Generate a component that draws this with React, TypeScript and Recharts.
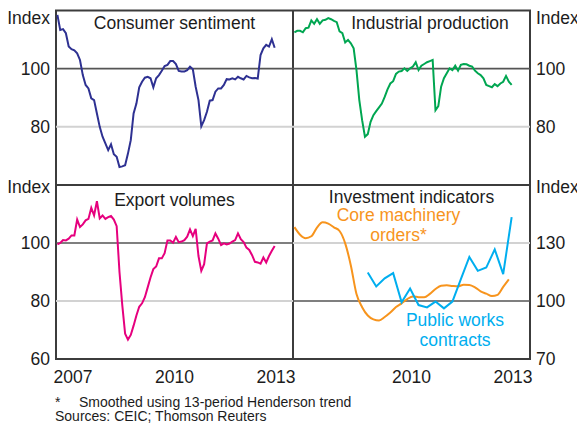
import React from 'react';
import { LineChart, Line, XAxis, YAxis, ReferenceLine, ReferenceArea } from 'recharts';

const FONT = '"Liberation Sans", Arial, Helvetica, sans-serif';
const TEXT = '#1c1c1c';
const FRAME = '#3c3c3c';
const DARK_GRID = '#555555';
const LIGHT_GRID = '#d2d2d2';

// x-axis categories
const yearLabelsLeft = [2007, 2010, 2013];
const yearLabelsRight = [2010, 2013];
const yearBoundaries = [2008, 2009, 2010, 2011, 2012, 2013];

// Consumer sentiment, monthly from Jan 2007
const consumerSentiment = [
  118.5, 113.3, 113.6, 112.2, 107.6, 106.7, 106.3, 105.3, 103, 97.8,
  94.4, 93.2, 89.8, 89.2, 84.6, 80, 76.6, 74.3, 72, 74,
  70.6, 69.7, 66.2, 66.4, 66.8, 70.8, 75.4, 84.6, 88, 93.6,
  95.5, 96.9, 97.2, 96.7, 93.6, 96.7, 97.8, 99.3, 100.9, 101.3,
  102.6, 102.6, 101.6, 99.2, 99, 99, 99.5, 100.7, 99.8, 93.8,
  89.2, 80.2, 82.3, 85.2, 89, 89.2, 92.1, 93.2, 93.2, 94.4,
  96.4, 96.3, 96.7, 96.3, 97.2, 96.7, 96.3, 97.5, 97, 96.7,
  96.8, 96.6, 104.7, 107, 108.2, 107.6, 110.1, 107.2,
];

// Industrial production, monthly from Jan 2007
const industrialProduction = [
  112.5, 113, 113, 112.5, 113.9, 114.1, 116.6, 115.4, 117, 115.4,
  116.6, 116.8, 117.4, 117, 116.4, 116, 112.8, 112.2, 109, 109.9,
  108.7, 107, 99.5, 89.2, 82.3, 76.6, 77.5, 81.7, 84, 85.4,
  86.7, 88, 90.3, 92.9, 94.9, 95.7, 98.2, 99, 99.2, 100.1,
  99.2, 100.1, 100.7, 102.2, 99.5, 101, 101.6, 102.2, 102.6, 103,
  85.7, 87.1, 93.8, 96.7, 98.4, 100.1, 99.5, 101, 99.3, 101.3,
  101.6, 101.5, 101, 100.7, 99.3, 98.4, 97.8, 96.7, 94.4, 94,
  93.6, 94.7, 94, 94.9, 95.5, 97.5, 95.5, 94.4,
];

// Export volumes, monthly from Jan 2007
const exportVolumes = [
  99.5, 100, 101, 100.9, 101.5, 102.6, 102.6, 108.1, 105.5, 106.4,
  107.8, 108.3, 112.1, 109.5, 114.4, 108.5, 109.5, 108.3, 108.9, 109.3,
  108.1, 105.8, 90, 78.5, 68.7, 66.7, 68.3, 71.5, 75, 78,
  79.2, 81.3, 84.7, 88.1, 91, 91.9, 94.7, 94.7, 96.5, 100.9,
  100.9, 100.1, 102.1, 100.3, 100.5, 101, 102.2, 104.7, 102.4, 104.9,
  95.5, 90.4, 92.7, 99.9, 100.5, 100.9, 103.3, 101.5, 99.3, 99.9,
  99.5, 99.8, 100.5, 101, 103.3, 101.3, 100.3, 98.4, 97.6, 95.8,
  93.5, 93.3, 92.9, 95, 93.3, 95.5, 97.3, 99,
];

// Core machinery orders (smoothed), every second month from Jan 2007
const machineryOrders = [
  138.2, 134.3, 132.5, 133.5, 138, 140.7, 140, 138.1, 136.2, 129.8,
  118.4, 103.6, 96.8, 92.5, 90.5, 89.9, 91.7, 94, 96.9, 98.8,
  101, 102.3, 102, 101.9, 103.7, 106.2, 107.9, 108.1, 107.8, 107.6,
  108.4, 108.3, 107.1, 105, 103.8, 102.6, 103.2, 107.3, 111.2,
];

// Public works contracts, quarterly from Mar 2009
const publicWorks = [
  114.7, 107.5, 111.7, 114.4, 99.3, 106.5, 97.9, 96.7, 99.7, 96.2,
  99.7, 111.3, 122.8, 115.6, 117.3, 126.7, 113.9, 143.4,
];

// month index (0 = Jan 2007) -> decimal year at mid-month
const series = (values: number[], startMonth: number, step: number) =>
  values.map((v, i) => ({ x: 2007 + (startMonth + i * step + 0.5) / 12, v }));

const csData = series(consumerSentiment, 0, 1);
const ipData = series(industrialProduction, 0, 1);
const exData = series(exportVolumes, 0, 1);
const moData = series(machineryOrders, 0, 2);
const pwData = series(publicWorks, 26, 3);

const makeYTick = (topValue: number, indexDy: number) => (props: any) => {
  const { x, y, payload, textAnchor } = props;
  const isTop = payload.value === topValue;
  return (
    <text
      x={x}
      y={y + (isTop ? indexDy : 0)}
      dy="0.36em"
      textAnchor={textAnchor}
      fontSize={17.5}
      fontFamily={FONT}
      fill={TEXT}
    >
      {isTop ? 'Index' : payload.value}
    </text>
  );
};

type LineSpec = { data: { x: number; v: number }[]; color: string; curve?: 'linear' | 'monotone' };

type PanelProps = {
  left: number;
  top: number;
  width: number;
  height: number;
  margin: { top: number; right: number; bottom: number; left: number };
  side: 'left' | 'right';
  axisWidth: number;
  domain: [number, number];
  yTicks: number[];
  darkLine: number;
  lightLine: number;
  indexDy: number;
  showX: boolean;
  xLabels: number[];
  lines: LineSpec[];
};

function Panel(p: PanelProps) {
  return (
    <div style={{ position: 'absolute', left: p.left, top: p.top }}>
      <LineChart width={p.width} height={p.height} margin={p.margin}>
        {p.showX && (
          <XAxis
            xAxisId="minor"
            type="number"
            dataKey="x"
            domain={[2007, 2014]}
            ticks={yearBoundaries}
            interval={0}
            tick={false}
            axisLine={false}
            tickLine={{ stroke: FRAME, strokeWidth: 1.5 }}
            tickSize={-5}
            height={0}
          />
        )}
        <XAxis
          type="number"
          dataKey="x"
          domain={[2007, 2014]}
          ticks={p.xLabels.map((y) => y + 0.5)}
          interval={0}
          tickFormatter={(v: number) => String(Math.floor(v))}
          axisLine={false}
          tickLine={false}
          tickSize={6}
          tickMargin={6}
          hide={!p.showX}
          height={p.showX ? 30 : 0}
          tick={{ fontSize: 17.5, fill: TEXT, fontFamily: FONT }}
        />
        <YAxis
          orientation={p.side}
          type="number"
          domain={p.domain}
          ticks={p.yTicks}
          interval={0}
          width={p.axisWidth}
          axisLine={false}
          tickLine={false}
          tickSize={6}
          tickMargin={0}
          tick={makeYTick(p.domain[1], p.indexDy)}
          allowDataOverflow
        />
        <ReferenceLine y={p.lightLine} stroke={LIGHT_GRID} strokeWidth={2} ifOverflow="visible" />
        <ReferenceLine y={p.darkLine} stroke={DARK_GRID} strokeWidth={1.6} ifOverflow="visible" />
        {p.lines.map((l, i) => (
          <Line
            key={i}
            data={l.data}
            dataKey="v"
            type={l.curve ?? 'linear'}
            stroke={l.color}
            strokeWidth={2}
            dot={false}
            activeDot={false}
            isAnimationActive={false}
          />
        ))}
        <ReferenceArea
          x1={2007}
          x2={2014}
          y1={p.domain[0]}
          y2={p.domain[1]}
          fill="none"
          fillOpacity={0}
          stroke={FRAME}
          strokeWidth={2}
          ifOverflow="visible"
        />
      </LineChart>
    </div>
  );
}

export default function App() {
  const title = { fontSize: 17.5, fontFamily: FONT, fill: TEXT } as const;
  return (
    <div style={{ position: 'absolute', left: 0, top: 0, width: 577, height: 427, background: '#fff', overflow: 'hidden' }}>
      <Panel
        left={0} top={0} width={293} height={185}
        margin={{ top: 10.5, right: 0, bottom: 0, left: 0 }}
        side="left" axisWidth={56}
        domain={[60, 120]} yTicks={[80, 100, 120]} darkLine={100} lightLine={80}
        indexDy={7.5} showX={false} xLabels={[]}
        lines={[{ data: csData, color: '#2e3192' }]}
      />
      <Panel
        left={293} top={0} width={284} height={185}
        margin={{ top: 10.5, right: 0, bottom: 0, left: 0 }}
        side="right" axisWidth={47}
        domain={[60, 120]} yTicks={[80, 100, 120]} darkLine={100} lightLine={80}
        indexDy={7.5} showX={false} xLabels={[]}
        lines={[{ data: ipData, color: '#00a651' }]}
      />
      <Panel
        left={0} top={170} width={313} height={219}
        margin={{ top: 15, right: 20, bottom: 0, left: 0 }}
        side="left" axisWidth={56}
        domain={[60, 120]} yTicks={[60, 80, 100, 120]} darkLine={100} lightLine={80}
        indexDy={1.5} showX={true} xLabels={yearLabelsLeft}
        lines={[{ data: exData, color: '#e6007e' }]}
      />
      <Panel
        left={293} top={170} width={284} height={219}
        margin={{ top: 15, right: 0, bottom: 0, left: 0 }}
        side="right" axisWidth={47}
        domain={[70, 160]} yTicks={[70, 100, 130, 160]} darkLine={100} lightLine={130}
        indexDy={1.5} showX={true} xLabels={yearLabelsRight}
        lines={[
          { data: moData, color: '#f7941d', curve: 'monotone' },
          { data: pwData, color: '#00aeef' },
        ]}
      />
      <svg width={577} height={427} style={{ position: 'absolute', left: 0, top: 0, pointerEvents: 'none' }}>
        <text x={174.5} y={28.5} textAnchor="middle" {...title}>Consumer sentiment</text>
        <text x={430} y={28.5} textAnchor="middle" {...title}>Industrial production</text>
        <text x={174.5} y={205.5} textAnchor="middle" {...title}>Export volumes</text>
        <text x={411.5} y={202.5} textAnchor="middle" {...title}>Investment indicators</text>
        <text x={398.5} y={220.5} textAnchor="middle" {...title} fill="#f7941d">Core machinery</text>
        <text x={398.5} y={240.5} textAnchor="middle" {...title} fill="#f7941d">orders*</text>
        <text x={455} y={326} textAnchor="middle" {...title} fill="#00aeef">Public works</text>
        <text x={455} y={346} textAnchor="middle" {...title} fill="#00aeef">contracts</text>
        <text x={55} y={407.3} fontSize={14} fontFamily={FONT} fill={TEXT}>*</text>
        <text x={79} y={407.3} fontSize={14} fontFamily={FONT} fill={TEXT}>Smoothed using 13-period Henderson trend</text>
        <text x={55} y={420.7} fontSize={14} fontFamily={FONT} fill={TEXT}>Sources: CEIC; Thomson Reuters</text>
      </svg>
    </div>
  );
}
